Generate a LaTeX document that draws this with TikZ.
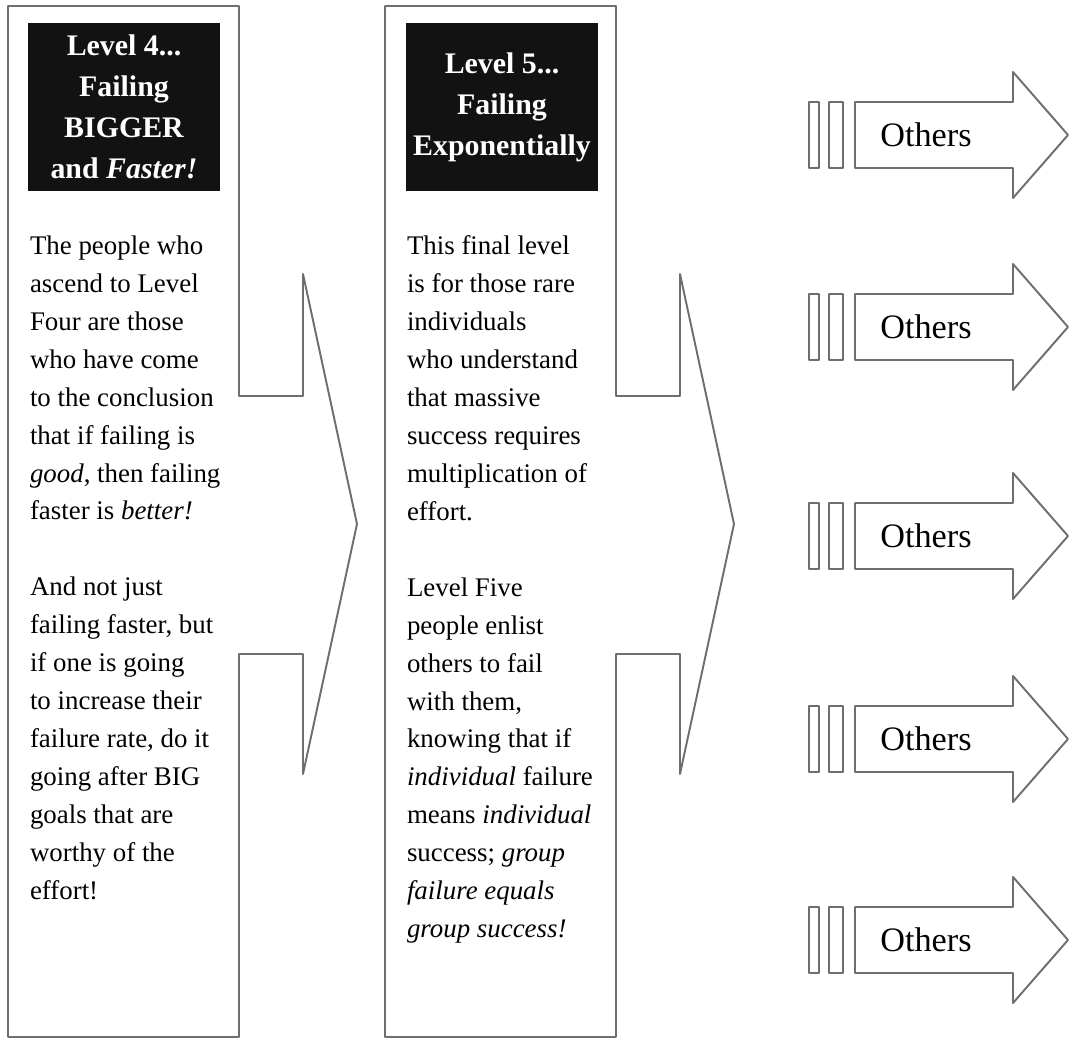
\documentclass[tikz,border=0pt]{standalone}
\usepackage{fontspec}
\setmainfont{Liberation Serif}
\usetikzlibrary{positioning}
\definecolor{edgegray}{HTML}{6E6E6E}
\tikzset{
  panel/.style={draw=edgegray, line width=1.1pt, fill=white},
  titlebox/.style={fill=black!93, text=white, inner sep=0pt, align=center,
    minimum width=3.84cm, minimum height=3.36cm,
    font=\fontsize{17}{23.3}\selectfont\bfseries},
  bodytext/.style={inner sep=0pt, align=left, font=\fontsize{15.3}{21.6}\selectfont},
  othertext/.style={inner sep=0pt, anchor=west, font=\fontsize{19.5}{22}\selectfont}
}
\begin{document}
\begin{tikzpicture}[x=0.02cm, y=-0.02cm, line join=round, line cap=round]
	\useasboundingbox (0,0) rectangle (1069,1040);
	% panels with their arrow heads
	\foreach \px in {8,385}{
		\draw[panel] (\px,6) -- ++(231,0) -- (\px+231,396) -- ++(64,0) -- ++(0,-122)
			-- ++(54,250) -- ++(-54,250) -- ++(0,-120) -- ++(-64,0)
			-- (\px+231,1037) -- (\px,1037) -- cycle;
	}
	\node[titlebox] (titlefour) at (124,107) {Level 4...\\Failing\\BIGGER\\and \textit{Faster!}};
	\node[titlebox] (titlefive) at (502,107) {Level 5...\\Failing\\Exponentially};
	\node[bodytext, below right=0.88cm and 0.04cm of titlefour.south west] (textfour)
		{The people who\\ascend to Level\\Four are those\\who have come\\to the conclusion\\that if failing is\\\textit{good}, then failing\\faster is \textit{better!}\\[21.6pt]
		And not just\\failing faster, but\\if one is going\\to increase their\\failure rate, do it\\going after BIG\\goals that are\\worthy of the\\effort!};
	\node[bodytext, below right=0.88cm and 0.02cm of titlefive.south west] (textfive)
		{This final level\\is for those rare\\individuals\\who understand\\that massive\\success requires\\multiplication of\\effort.\\[21.6pt]
		Level Five\\people enlist\\others to fail\\with them,\\knowing that if\\\textit{individual} failure\\means \textit{individual}\\success; \textit{group}\\\textit{failure equals}\\\textit{group success!}};
	% the others
	\foreach \cy [count=\i] in {135,327,536,739,940}{
		\draw[panel] (809,\cy-33) rectangle (819,\cy+33);
		\draw[panel] (829,\cy-33) rectangle (843,\cy+33);
		\draw[panel] (855,\cy-33) -- (1013,\cy-33) -- (1013,\cy-63) -- (1068,\cy)
			-- (1013,\cy+63) -- (1013,\cy+33) -- (855,\cy+33) -- cycle;
		\node[othertext] (other\i) at (880,\cy) {Others};
	}
\end{tikzpicture}
\end{document}
